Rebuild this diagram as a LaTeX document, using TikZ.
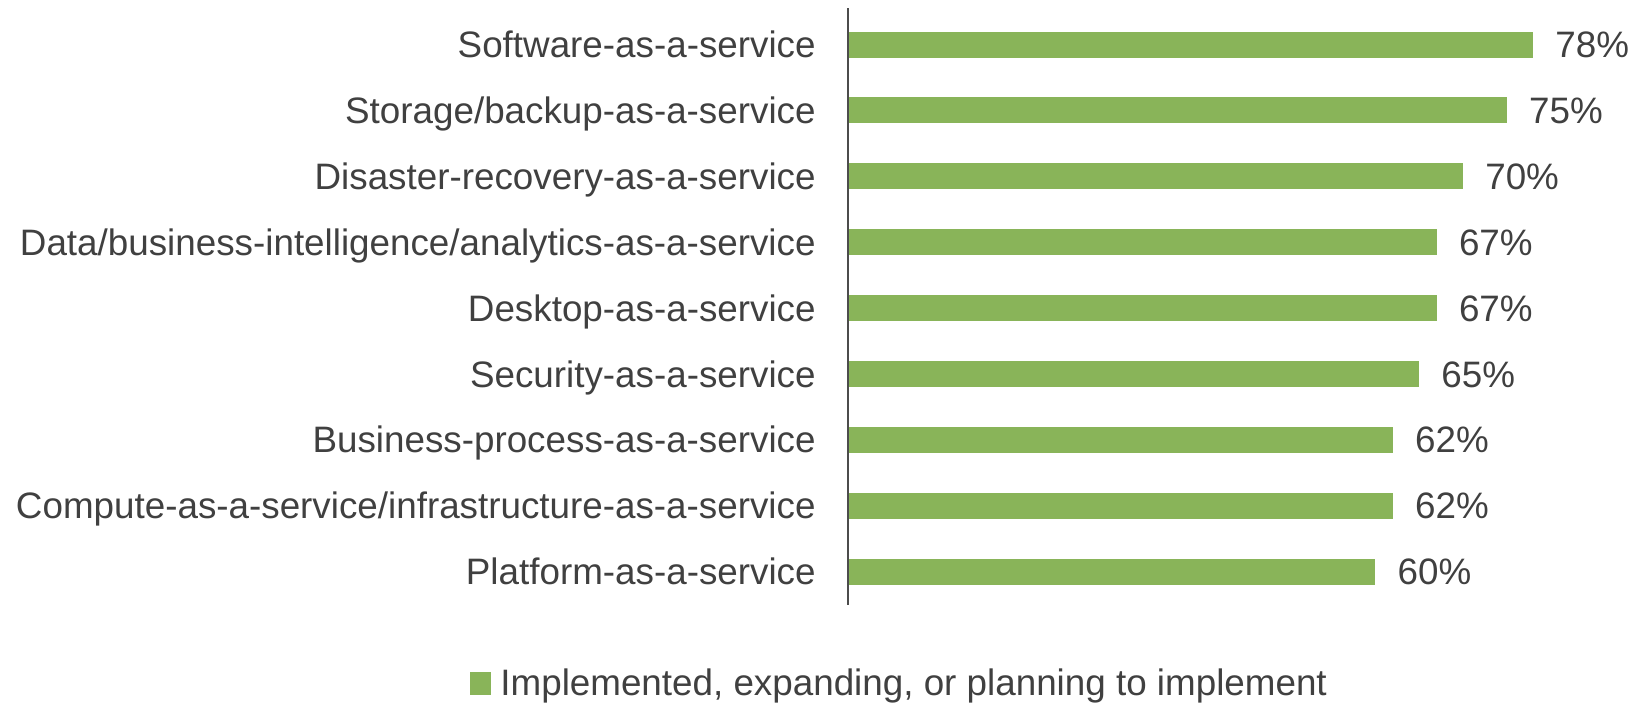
\documentclass[tikz,border=0pt]{standalone}
\usepackage{fontspec}
\setmainfont{Liberation Sans}
\definecolor{bargreen}{RGB}{137,180,89}
\definecolor{txtgray}{RGB}{64,64,64}
\begin{document}
\begin{tikzpicture}[x=0.5pt,y=-0.5pt,line cap=butt]
        \tikzset{every node/.style={inner sep=0pt,text=txtgray,font=\fontsize{18.4}{22}\selectfont}}
        \useasboundingbox (0,0) rectangle (1639,708);
        \foreach \i/\lab/\val in {1/{Software-as-a-service}/78,2/{Storage/backup-as-a-service}/75,
            3/{Disaster-recovery-as-a-service}/70,4/{Data/business-intelligence/analytics-as-a-service}/67,
            5/{Desktop-as-a-service}/67,6/{Security-as-a-service}/65,7/{Business-process-as-a-service}/62,
            8/{Compute-as-a-service/infrastructure-as-a-service}/62,9/{Platform-as-a-service}/60}
        {
            \pgfmathsetmacro{\yc}{44.5+65.9*(\i-1)}
            \fill[bargreen] (849,\yc-13) rectangle (849+8.77*\val,\yc+13);
            \node[anchor=base east] (lab\i) at (816,\yc+13) {\lab};
            \node[anchor=base west] (val\i) at (849+8.77*\val+22,\yc+13) {\val\%};
        }
        \draw[line width=1pt,black!70] (848,8)--(848,605);
        % legend
        \fill[bargreen] (470,672) rectangle (491,695);
        \node[anchor=base west] (legend) at (500,695) {Implemented, expanding, or planning to implement};
    \end{tikzpicture}
\end{document}
